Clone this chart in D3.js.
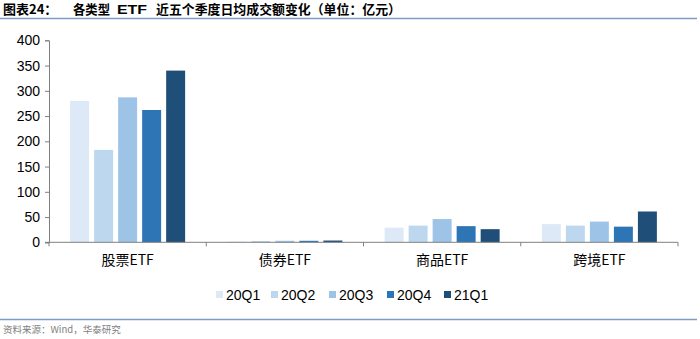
<!DOCTYPE html>
<html>
<head>
<meta charset="utf-8">
<script src="https://cdn.jsdelivr.net/npm/d3@7"></script>
<style>
  html, body { margin: 0; padding: 0; background: #fff; }
  svg { display: block; }
</style>
</head>
<body>
<svg id="chart" width="700" height="339"></svg>
<script>
// ETF types and quarterly average daily turnover (亿元)
const categories = ["股票ETF", "债券ETF", "商品ETF", "跨境ETF"];
const quarters = ["20Q1", "20Q2", "20Q3", "20Q4", "21Q1"];
const q20Q1 = [280, 1.5, 29, 36];
const q20Q2 = [183, 2.5, 33, 33];
const q20Q3 = [287, 3, 46, 41];
const q20Q4 = [262, 3, 32, 31];
const q21Q1 = [340, 3.5, 26, 61];
const yTicks = [0, 50, 100, 150, 200, 250, 300, 350, 400];
const colors = ["#dde9f6", "#bdd7ee", "#9dc3e6", "#2e75b6", "#1f4e79"];

(function () {
  const seriesValues = [q20Q1, q20Q2, q20Q3, q20Q4, q21Q1];
  const rows = categories.map((c, i) => ({
    cat: c,
    vals: quarters.map((q, j) => ({ q, v: seriesValues[j][i] }))
  }));

  const svg = d3.select("#chart");
  const font = "'Liberation Sans', Arial, 'Noto Sans CJK SC', sans-serif";
  const cjk = "'Noto Sans CJK SC', 'Liberation Sans', sans-serif";

  // Title, set in pieces along the line, and the rule lines
  const titleParts = [
    { t: "图表24：", x: 3, len: null, f: cjk },
    { t: "各类型", x: 73, len: 37, f: cjk },
    { t: "ETF", x: 117, len: 30, f: font },
    { t: "近五个季度日均成交额变化（单位：亿元）", x: 156, len: 245, f: cjk }
  ];
  titleParts.forEach(p => {
    const el = svg.append("text")
      .attr("x", p.x).attr("y", 13.5)
      .attr("font-family", p.f).attr("font-weight", "bold")
      .attr("font-size", 13).attr("fill", "#000")
      .text(p.t);
    if (p.len) el.attr("textLength", p.len).attr("lengthAdjust", "spacingAndGlyphs");
  });
  svg.append("line").attr("x1", 0).attr("x2", 697).attr("y1", 18.5).attr("y2", 18.5)
    .attr("stroke", "#7f9cc4").attr("stroke-width", 1.5);
  svg.append("line").attr("x1", 0).attr("x2", 697).attr("y1", 319.5).attr("y2", 319.5)
    .attr("stroke", "#7f9cc4").attr("stroke-width", 1.5);
  svg.append("text")
    .attr("x", 3).attr("y", 333)
    .attr("font-family", cjk).attr("font-size", 9.5).attr("fill", "#7f7f7f")
    .text("资料来源：Wind，华泰研究");

  // Plot area
  const plotLeft = 49, plotRight = 678, plotTop = 40.3, plotBottom = 242.3;
  const x0 = d3.scaleBand().domain(categories).range([plotLeft, plotRight]);
  const x1 = d3.scaleBand().domain(quarters).range([0, x0.bandwidth()])
    .paddingInner(0.21).paddingOuter(0.88);
  const y = d3.scaleLinear().domain([0, 400]).range([plotBottom, plotTop]);

  const g = svg.append("g");

  // Bars
  const groups = g.selectAll("g.cat").data(rows).enter().append("g")
    .attr("class", "cat")
    .attr("transform", d => `translate(${x0(d.cat)},0)`);
  groups.selectAll("rect").data(d => d.vals).enter().append("rect")
    .attr("x", d => x1(d.q))
    .attr("width", x1.bandwidth())
    .attr("y", d => y(d.v))
    .attr("height", d => plotBottom - y(d.v))
    .attr("fill", (d, i) => colors[i]);

  // Y axis
  const yAxis = g.append("g").attr("transform", `translate(${plotLeft},0)`)
    .call(d3.axisLeft(y).tickValues(yTicks).tickSize(4).tickPadding(5));
  yAxis.select(".domain").attr("stroke", "#808080");
  yAxis.selectAll(".tick line").attr("stroke", "#808080");
  yAxis.selectAll("text").attr("font-family", font).attr("font-size", 14).attr("fill", "#000");

  // X axis with ticks at category boundaries
  const xAxis = g.append("g").attr("transform", `translate(0,${plotBottom})`);
  xAxis.append("line").attr("x1", plotLeft - 4).attr("x2", plotRight).attr("y1", 0).attr("y2", 0)
    .attr("stroke", "#808080");
  const bounds = categories.map(c => x0(c) + x0.bandwidth()).concat([plotLeft]);
  xAxis.selectAll("line.tk").data(bounds).enter().append("line")
    .attr("class", "tk")
    .attr("x1", d => d).attr("x2", d => d).attr("y1", 0).attr("y2", 4)
    .attr("stroke", "#808080");
  xAxis.selectAll("text").data(categories).enter().append("text")
    .attr("x", d => x0(d) + x0.bandwidth() / 2)
    .attr("y", 23)
    .attr("text-anchor", "middle")
    .attr("font-family", cjk).attr("font-size", 14).attr("fill", "#000")
    .text(d => d);

  // Legend
  const legendX = [216, 271, 329, 387, 444];
  const legend = svg.append("g").selectAll("g").data(quarters).enter().append("g")
    .attr("transform", (d, i) => `translate(${legendX[i]},295)`);
  legend.append("rect").attr("x", 0).attr("y", -4).attr("width", 7).attr("height", 7)
    .attr("fill", (d, i) => colors[i]);
  legend.append("text").attr("x", 10).attr("y", 5)
    .attr("font-family", font).attr("font-size", 14).attr("fill", "#000")
    .text(d => d);
})();
</script>
</body>
</html>
